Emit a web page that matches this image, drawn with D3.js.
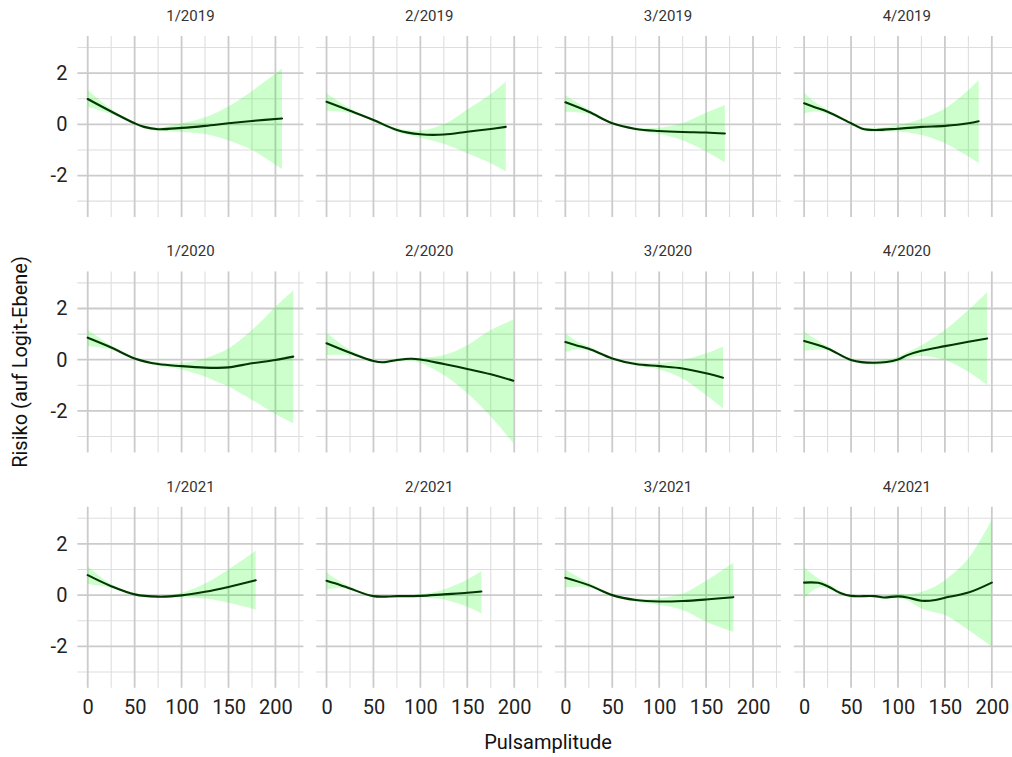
<!DOCTYPE html>
<html>
<head>
<meta charset="utf-8">
<script src="https://cdn.jsdelivr.net/npm/d3@7"></script>
<style>
  html, body { margin: 0; padding: 0; background: #ffffff; }
  svg { display: block; font-family: Roboto, "Noto Sans", sans-serif; }
</style>
</head>
<body>
<svg id="chart" width="1012" height="757"></svg>
<script>
// Facet labels (quarter/year), row-major
const facetLabels = ["1/2019", "2/2019", "3/2019", "4/2019",
                     "1/2020", "2/2020", "3/2020", "4/2020",
                     "1/2021", "2/2021", "3/2021", "4/2021"];

// Each row: [Pulsamplitude, fitted logit, lower CI, upper CI]
const q1_2019 = [[0,0.99,0.69,1.34],[25,0.5,0.4,0.6],[50,0.04,-0.01,0.09],[60,-0.1,-0.16,-0.04],[75,-0.19,-0.26,-0.12],[100,-0.14,-0.3,0.04],[125,-0.06,-0.38,0.28],[150,0.04,-0.63,0.7],[175,0.13,-1.0,1.3],[207,0.23,-1.75,2.18]];
const q2_2019 = [[0,0.88,0.53,1.21],[25,0.53,0.44,0.62],[50,0.17,0.12,0.22],[75,-0.22,-0.3,-0.15],[100,-0.39,-0.52,-0.24],[125,-0.4,-0.76,0.0],[150,-0.29,-1.13,0.58],[175,-0.18,-1.52,1.18],[191,-0.1,-1.84,1.66]];
const q3_2019 = [[0,0.86,0.49,1.14],[25,0.49,0.4,0.58],[50,0.04,0.0,0.09],[75,-0.18,-0.23,-0.12],[100,-0.26,-0.38,-0.13],[125,-0.3,-0.62,0.05],[150,-0.32,-1.06,0.45],[170,-0.36,-1.48,0.75]];
const q4_2019 = [[0,0.82,0.43,1.23],[12,0.66,0.5,0.85],[25,0.49,0.41,0.57],[50,0.04,-0.01,0.09],[62,-0.17,-0.23,-0.1],[75,-0.22,-0.3,-0.15],[100,-0.17,-0.28,-0.04],[125,-0.1,-0.42,0.22],[150,-0.06,-0.74,0.62],[175,0.04,-1.26,1.34],[186,0.12,-1.52,1.73]];
const q1_2020 = [[0,0.86,0.53,1.16],[25,0.48,0.4,0.56],[50,0.05,0.0,0.1],[75,-0.17,-0.24,-0.1],[100,-0.25,-0.38,-0.12],[125,-0.31,-0.66,0.05],[137,-0.32,-0.85,0.22],[150,-0.3,-1.05,0.44],[175,-0.14,-1.57,1.16],[200,-0.01,-2.12,2.06],[219,0.12,-2.48,2.71]];
const q2_2020 = [[0,0.64,0.18,1.05],[25,0.27,0.17,0.38],[50,-0.05,-0.1,0.0],[60,-0.1,-0.15,-0.05],[75,-0.01,-0.07,0.05],[90,0.04,-0.03,0.1],[100,0.01,-0.12,0.08],[125,-0.17,-0.6,0.18],[150,-0.36,-1.31,0.57],[175,-0.57,-2.22,1.16],[199,-0.82,-3.26,1.57]];
const q3_2020 = [[0,0.69,0.31,1.03],[12,0.56,0.4,0.72],[25,0.43,0.36,0.52],[50,0.05,0.0,0.1],[75,-0.17,-0.23,-0.1],[100,-0.25,-0.38,-0.12],[125,-0.34,-0.73,-0.01],[150,-0.53,-1.38,0.25],[168,-0.7,-1.9,0.51]];
const q4_2020 = [[0,0.73,0.35,1.09],[25,0.44,0.36,0.52],[50,-0.01,-0.06,0.05],[75,-0.12,-0.2,-0.05],[100,0.01,-0.08,0.12],[110,0.18,0.05,0.3],[125,0.35,0.15,0.57],[150,0.53,-0.01,1.16],[175,0.7,-0.47,1.94],[195,0.83,-0.99,2.65]];
const q1_2021 = [[0,0.78,0.43,1.13],[25,0.35,0.28,0.43],[50,0.03,-0.02,0.08],[75,-0.06,-0.11,-0.01],[100,-0.01,-0.09,0.09],[125,0.13,-0.13,0.45],[150,0.32,-0.3,1.0],[179,0.58,-0.56,1.73]];
const q2_2021 = [[0,0.56,0.22,0.88],[15,0.39,0.28,0.52],[25,0.26,0.2,0.33],[50,-0.04,-0.08,0.0],[75,-0.04,-0.08,0.0],[100,-0.03,-0.08,0.03],[125,0.03,-0.17,0.22],[150,0.09,-0.45,0.61],[165,0.14,-0.71,0.94]];
const q3_2021 = [[0,0.68,0.3,1.0],[25,0.39,0.3,0.48],[50,0.0,-0.05,0.05],[75,-0.19,-0.25,-0.13],[100,-0.25,-0.38,-0.12],[125,-0.23,-0.58,0.06],[150,-0.17,-1.04,0.56],[179,-0.08,-1.43,1.26]];
const q4_2021 = [[0,0.49,-0.1,1.08],[15,0.48,0.3,0.65],[25,0.35,0.25,0.45],[40,0.06,0.0,0.12],[50,-0.03,-0.08,0.02],[75,-0.04,-0.09,0.01],[85,-0.09,-0.14,-0.04],[100,-0.05,-0.13,0.06],[110,-0.09,-0.2,0.03],[125,-0.22,-0.52,0.13],[140,-0.19,-0.68,0.35],[150,-0.1,-0.78,0.58],[175,0.1,-1.36,1.43],[200,0.49,-2.01,2.95]];

const facetData = [q1_2019, q2_2019, q3_2019, q4_2019,
                   q1_2020, q2_2020, q3_2020, q4_2020,
                   q1_2021, q2_2021, q3_2021, q4_2021];

const xMajorTicks = [0, 50, 100, 150, 200];
const xMinorTicks = [25, 75, 125, 175, 225];
const yMajorTicks = [-2, 0, 2];
const yMinorTicks = [-3, -1, 1, 3];

const xTitle = "Pulsamplitude";
const yTitle = "Risiko (auf Logit-Ebene)";

// ---------- layout ----------
const svg = d3.select("#chart");
const panelW = 226, panelH = 181;
const panelLeft = [77.4, 316.2, 555, 793.8];
const panelTop = [36, 271.4, 506.8];

const x = d3.scaleLinear().domain([-11, 229.8]).range([0, panelW]);
const y = d3.scaleLinear().domain([-3.62, 3.45]).range([panelH, 0]);

const curve = d3.curveCatmullRom.alpha(0.5);
const line = d3.line().x(d => x(d[0])).y(d => y(d[1])).curve(curve);
const area = d3.area().x(d => x(d[0])).y0(d => y(d[2])).y1(d => y(d[3])).curve(curve);

facetLabels.forEach((lab, i) => {
  const r = Math.floor(i / 4), c = i % 4;
  const g = svg.append("g").attr("transform", `translate(${panelLeft[c]},${panelTop[r]})`);

  // minor grid
  g.selectAll(".hmin").data(yMinorTicks).join("line")
    .attr("x1", 0).attr("x2", panelW).attr("y1", d => y(d)).attr("y2", d => y(d))
    .attr("stroke", "#dedede").attr("stroke-width", 1.1);
  g.selectAll(".vmin").data(xMinorTicks).join("line")
    .attr("y1", 0).attr("y2", panelH).attr("x1", d => x(d)).attr("x2", d => x(d))
    .attr("stroke", "#dedede").attr("stroke-width", 1.1);
  // major grid
  g.selectAll(".hmaj").data(yMajorTicks).join("line")
    .attr("x1", 0).attr("x2", panelW).attr("y1", d => y(d)).attr("y2", d => y(d))
    .attr("stroke", "#cbcbcb").attr("stroke-width", 1.8);
  g.selectAll(".vmaj").data(xMajorTicks).join("line")
    .attr("y1", 0).attr("y2", panelH).attr("x1", d => x(d)).attr("x2", d => x(d))
    .attr("stroke", "#cbcbcb").attr("stroke-width", 1.8);

  const data = facetData[i];
  g.append("path").datum(data).attr("d", area)
    .attr("fill", "#00ff00").attr("fill-opacity", 0.2);
  g.append("path").datum(data).attr("d", line)
    .attr("fill", "none").attr("stroke", "#043604").attr("stroke-width", 2.1)
    .attr("stroke-linejoin", "round").attr("stroke-linecap", "round");

  // strip label
  g.append("text").attr("x", panelW / 2).attr("y", -15)
    .attr("text-anchor", "middle").attr("font-size", 15).attr("fill", "#333")
    .text(lab);

  if (c === 0) {
    const ax = g.append("g").call(d3.axisLeft(y).tickValues(yMajorTicks).tickSize(0).tickPadding(10)
      .tickFormat(d => d < 0 ? "-" + Math.abs(d) : d));
    ax.select(".domain").remove();
    ax.selectAll("text").attr("font-size", 20).attr("fill", "#222").attr("font-family", "Roboto, sans-serif");
  }
  if (r === 2) {
    const ax = g.append("g").attr("transform", `translate(0,${panelH})`)
      .call(d3.axisBottom(x).tickValues(xMajorTicks).tickSize(0).tickPadding(12));
    ax.select(".domain").remove();
    ax.selectAll("text").attr("font-size", 20).attr("fill", "#222").attr("font-family", "Roboto, sans-serif");
  }
});

svg.append("text").attr("x", 548).attr("y", 749).attr("text-anchor", "middle")
  .attr("font-size", 20).attr("fill", "#111").text(xTitle);
svg.append("text").attr("transform", "translate(27,362) rotate(-90)").attr("text-anchor", "middle")
  .attr("font-size", 20).attr("fill", "#111").text(yTitle);
</script>
</body>
</html>
